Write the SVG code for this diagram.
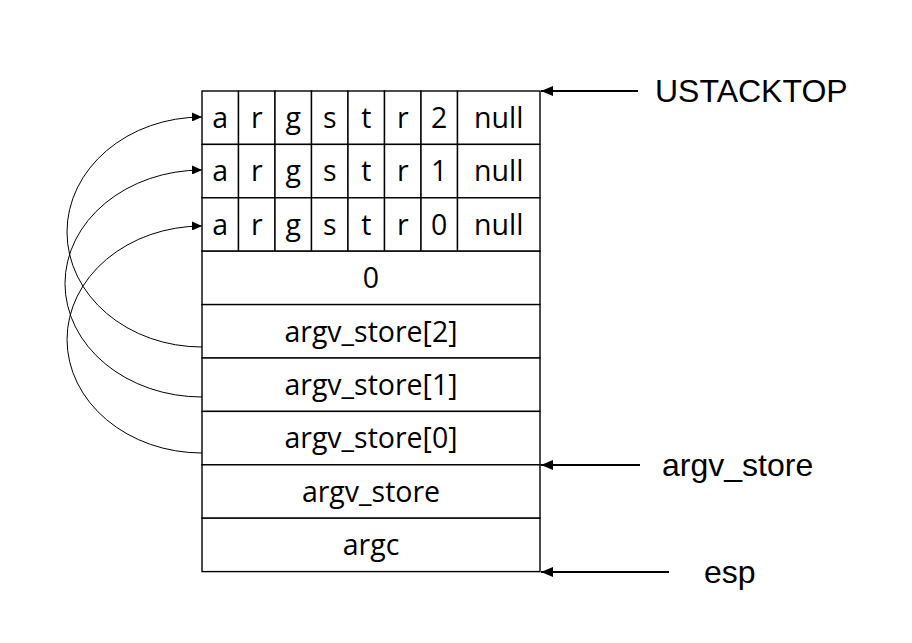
<svg xmlns="http://www.w3.org/2000/svg" width="912" height="643" viewBox="0 0 912 643">
<style>
.cell{fill:#fff;stroke:#000;stroke-width:1.4}
.t{font-family:"Open Sans","Noto Sans",sans-serif;font-size:28.5px;fill:#000;text-anchor:middle}
.lbl{font-family:"Liberation Sans",Arial,sans-serif;font-size:32px;fill:#000}
.curve{fill:none;stroke:#000;stroke-width:1}
.ptr{fill:none;stroke:#000;stroke-width:1.8}
</style>
<defs>
<marker id="ah" markerUnits="userSpaceOnUse" markerWidth="10" markerHeight="9" refX="10" refY="4.5" orient="auto">
<path d="M0,0 L10,4.5 L0,9 z" fill="#000"/>
</marker>
<marker id="ah2" markerUnits="userSpaceOnUse" markerWidth="12" markerHeight="10" refX="12" refY="5" orient="auto">
<path d="M0,0 L12,5 L0,10 z" fill="#000"/>
</marker>
</defs>
<rect width="912" height="643" fill="#fff"/>
<g id="row-argstr2">
<rect class="cell" x="202" y="91" width="36.5" height="53.4"/>
<rect class="cell" x="238.5" y="91" width="36.5" height="53.4"/>
<rect class="cell" x="275" y="91" width="36.5" height="53.4"/>
<rect class="cell" x="311.5" y="91" width="36.5" height="53.4"/>
<rect class="cell" x="348" y="91" width="36.5" height="53.4"/>
<rect class="cell" x="384.5" y="91" width="36.5" height="53.4"/>
<rect class="cell" x="421" y="91" width="36.5" height="53.4"/>
<rect class="cell" x="457.5" y="91" width="82.5" height="53.4"/>
<text class="t" x="220.25" y="128">a</text><text class="t" x="256.75" y="128">r</text><text class="t" x="293.25" y="128">g</text><text class="t" x="329.75" y="128">s</text><text class="t" x="366.25" y="128">t</text><text class="t" x="402.75" y="128">r</text><text class="t" x="439.25" y="128">2</text><text class="t" x="498.75" y="128">null</text>
</g>
<g id="row-argstr1">
<rect class="cell" x="202" y="144.4" width="36.5" height="53.4"/>
<rect class="cell" x="238.5" y="144.4" width="36.5" height="53.4"/>
<rect class="cell" x="275" y="144.4" width="36.5" height="53.4"/>
<rect class="cell" x="311.5" y="144.4" width="36.5" height="53.4"/>
<rect class="cell" x="348" y="144.4" width="36.5" height="53.4"/>
<rect class="cell" x="384.5" y="144.4" width="36.5" height="53.4"/>
<rect class="cell" x="421" y="144.4" width="36.5" height="53.4"/>
<rect class="cell" x="457.5" y="144.4" width="82.5" height="53.4"/>
<text class="t" x="220.25" y="181.4">a</text><text class="t" x="256.75" y="181.4">r</text><text class="t" x="293.25" y="181.4">g</text><text class="t" x="329.75" y="181.4">s</text><text class="t" x="366.25" y="181.4">t</text><text class="t" x="402.75" y="181.4">r</text><text class="t" x="439.25" y="181.4">1</text><text class="t" x="498.75" y="181.4">null</text>
</g>
<g id="row-argstr0">
<rect class="cell" x="202" y="197.8" width="36.5" height="53.4"/>
<rect class="cell" x="238.5" y="197.8" width="36.5" height="53.4"/>
<rect class="cell" x="275" y="197.8" width="36.5" height="53.4"/>
<rect class="cell" x="311.5" y="197.8" width="36.5" height="53.4"/>
<rect class="cell" x="348" y="197.8" width="36.5" height="53.4"/>
<rect class="cell" x="384.5" y="197.8" width="36.5" height="53.4"/>
<rect class="cell" x="421" y="197.8" width="36.5" height="53.4"/>
<rect class="cell" x="457.5" y="197.8" width="82.5" height="53.4"/>
<text class="t" x="220.25" y="234.8">a</text><text class="t" x="256.75" y="234.8">r</text><text class="t" x="293.25" y="234.8">g</text><text class="t" x="329.75" y="234.8">s</text><text class="t" x="366.25" y="234.8">t</text><text class="t" x="402.75" y="234.8">r</text><text class="t" x="439.25" y="234.8">0</text><text class="t" x="498.75" y="234.8">null</text>
</g>
<g id="row-zero"><rect class="cell" x="202" y="251.2" width="338" height="53.4"/><text class="t" x="371" y="288.2">0</text></g>
<g id="row-argv2"><rect class="cell" x="202" y="304.6" width="338" height="53.4"/><text class="t" x="371" y="341.6">argv_store[2]</text></g>
<g id="row-argv1"><rect class="cell" x="202" y="358" width="338" height="53.4"/><text class="t" x="371" y="395">argv_store[1]</text></g>
<g id="row-argv0"><rect class="cell" x="202" y="411.4" width="338" height="53.4"/><text class="t" x="371" y="448.4">argv_store[0]</text></g>
<g id="row-argvstore"><rect class="cell" x="202" y="464.8" width="338" height="53.4"/><text class="t" x="371" y="501.8">argv_store</text></g>
<g id="row-argc"><rect class="cell" x="202" y="518.2" width="338" height="53.4"/><text class="t" x="371" y="555.2">argc</text></g>
<g id="label-ustacktop"><text class="lbl" x="655" y="102">USTACKTOP</text></g>
<g id="label-argvstore"><text class="lbl" x="662" y="476">argv_store</text></g>
<g id="label-esp"><text class="lbl" x="704" y="583">esp</text></g>
<g id="connectors">
<path class="curve" d="M202,347 A135,115 0 0 1 202,117" marker-end="url(#ah)"/>
<path class="curve" d="M202,397 A137,113.5 0 0 1 202,170" marker-end="url(#ah)"/>
<path class="curve" d="M202,453 A135,113.5 0 0 1 202,226" marker-end="url(#ah)"/>
<path class="ptr" d="M638,91 L541,91" marker-end="url(#ah2)"/>
<path class="ptr" d="M640,465 L541,465" marker-end="url(#ah2)"/>
<path class="ptr" d="M669,572 L541,572" marker-end="url(#ah2)"/>
</g>
</svg>
